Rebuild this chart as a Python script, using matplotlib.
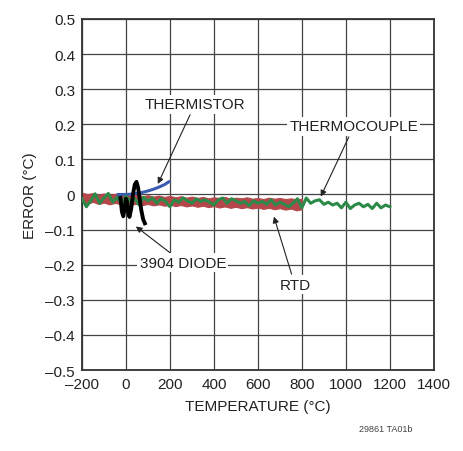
import matplotlib.pyplot as plt
import numpy as np

plt.rcParams['font.family'] = ['Liberation Sans Narrow', 'Liberation Sans', 'DejaVu Sans']

# RTD error band, -200..800 C every 25 C
rtd_t = np.arange(-200, 801, 25)
rtd_hi = [0.005, 0.001, 0.004, -0.001, 0.003, -0.002, 0.002, -0.003, 0.000, -0.004,
          -0.001, -0.005, -0.002, -0.006, -0.003, -0.007, -0.004, -0.008, -0.005, -0.009,
          -0.006, -0.010, -0.007, -0.011, -0.008, -0.010, -0.007, -0.012, -0.009, -0.011,
          -0.008, -0.012, -0.010, -0.013, -0.009, -0.012, -0.010, -0.013, -0.011, -0.014,
          -0.012]
rtd_lo = [-0.022, -0.026, -0.021, -0.027, -0.023, -0.028, -0.024, -0.027, -0.025, -0.029,
          -0.026, -0.030, -0.027, -0.031, -0.028, -0.032, -0.029, -0.033, -0.030, -0.034,
          -0.031, -0.035, -0.032, -0.036, -0.033, -0.037, -0.034, -0.038, -0.035, -0.039,
          -0.036, -0.040, -0.037, -0.041, -0.038, -0.042, -0.039, -0.043, -0.040, -0.045,
          -0.042]

# thermistor
thm_t = [-35, 0, 25, 50, 75, 100, 125, 150, 175, 195]
thm_y = [0.000, 0.000, 0.001, 0.003, 0.006, 0.010, 0.015, 0.021, 0.028, 0.036]

# thermocouple, -200..1200 C every 20 C
tc_t = np.arange(-200, 1201, 20)
tc_y = [-0.012, -0.035, -0.018, 0.002, -0.025, -0.010, 0.003, -0.022, -0.008, -0.028,
        -0.005, -0.020, -0.012, -0.030, -0.008, -0.018, -0.010, -0.025, -0.012, -0.020,
        -0.035, -0.015, -0.022, -0.010, -0.018, -0.025, -0.012, -0.020, -0.015, -0.022,
        -0.030, -0.015, -0.010, -0.025, -0.012, -0.018, -0.025, -0.020, -0.032, -0.018,
        -0.025, -0.020, -0.028, -0.015, -0.030, -0.022, -0.028, -0.035, -0.025, -0.012,
        -0.038, -0.010, -0.025, -0.018, -0.015, -0.028, -0.022, -0.030, -0.025, -0.038,
        -0.022, -0.040, -0.030, -0.025, -0.035, -0.028, -0.040, -0.025, -0.038, -0.030,
        -0.035]

# 3904 diode
dio_t = [-25, -18, -12, -6, 0, 5, 10, 16, 24, 32, 40, 48, 55, 62, 70, 78, 86]
dio_y = [-0.010, -0.050, -0.062, -0.040, -0.012, -0.020, -0.050, -0.064, -0.040, 0.000,
         0.028, 0.036, 0.020, -0.010, -0.045, -0.070, -0.082]

xticks = [-200, 0, 200, 400, 600, 800, 1000, 1200, 1400]
yticks = [0.5, 0.4, 0.3, 0.2, 0.1, 0, -0.1, -0.2, -0.3, -0.4, -0.5]

fig = plt.figure(figsize=(4.63, 4.52), dpi=100)
ax = fig.add_axes([0.177, 0.179, 0.760, 0.777])

ax.fill_between(rtd_t, rtd_lo, rtd_hi, color='#b5474b', lw=0.8, zorder=2)
ax.plot(thm_t, thm_y, color='#3b5bb0', lw=2.2, zorder=3)
ax.plot(tc_t, tc_y, color='#2b8a48', lw=2.2, zorder=4)
ax.plot(dio_t, dio_y, color='black', lw=2.8, zorder=5)

ax.set_xlim(-200, 1400)
ax.set_ylim(-0.5, 0.5)
ax.set_xticks(xticks)
ax.set_yticks(yticks)
ax.set_xticklabels([str(t).replace('-', '\u2013') for t in xticks])
ax.set_yticklabels(['0' if v == 0 else f'{v:.1f}'.replace('-', '\u2013') for v in yticks])
ax.tick_params(length=0, labelsize=11, colors='#222222', pad=5)
ax.grid(True, color='#444444', lw=0.9)
ax.set_axisbelow(True)
for s in ax.spines.values():
    s.set_color('#333333')
    s.set_linewidth(1.3)

ax.set_xlabel('TEMPERATURE (°C)', fontsize=11, color='#222222', labelpad=6)
ax.set_ylabel('ERROR (°C)', fontsize=11, color='#222222', labelpad=6)

box = dict(boxstyle='square,pad=0.15', fc='white', ec='none')
arrow = dict(arrowstyle='-|>', color='#222222', lw=0.8, mutation_scale=9, shrinkA=1, shrinkB=0)
ax.annotate('THERMISTOR', xy=(145, 0.03), xytext=(314, 0.257), ha='center', va='center',
            fontsize=11, color='#222222', bbox=box, arrowprops=arrow, zorder=6)
ax.annotate('THERMOCOUPLE', xy=(886, -0.006), xytext=(1036, 0.194), ha='center', va='center',
            fontsize=11, color='#222222', bbox=box, arrowprops=arrow, zorder=6)
ax.annotate('3904 DIODE', xy=(45, -0.091), xytext=(259, -0.194), ha='center', va='center',
            fontsize=11, color='#222222', bbox=box, arrowprops=arrow, zorder=6)
ax.annotate('RTD', xy=(673, -0.063), xytext=(768, -0.257), ha='center', va='center',
            fontsize=11, color='#222222', bbox=box, arrowprops=arrow, zorder=6)

fig.text(0.832, 0.045, '29861 TA01b', fontsize=6.5, color='#444444', ha='center')

fig.savefig('out.png', dpi=100)
